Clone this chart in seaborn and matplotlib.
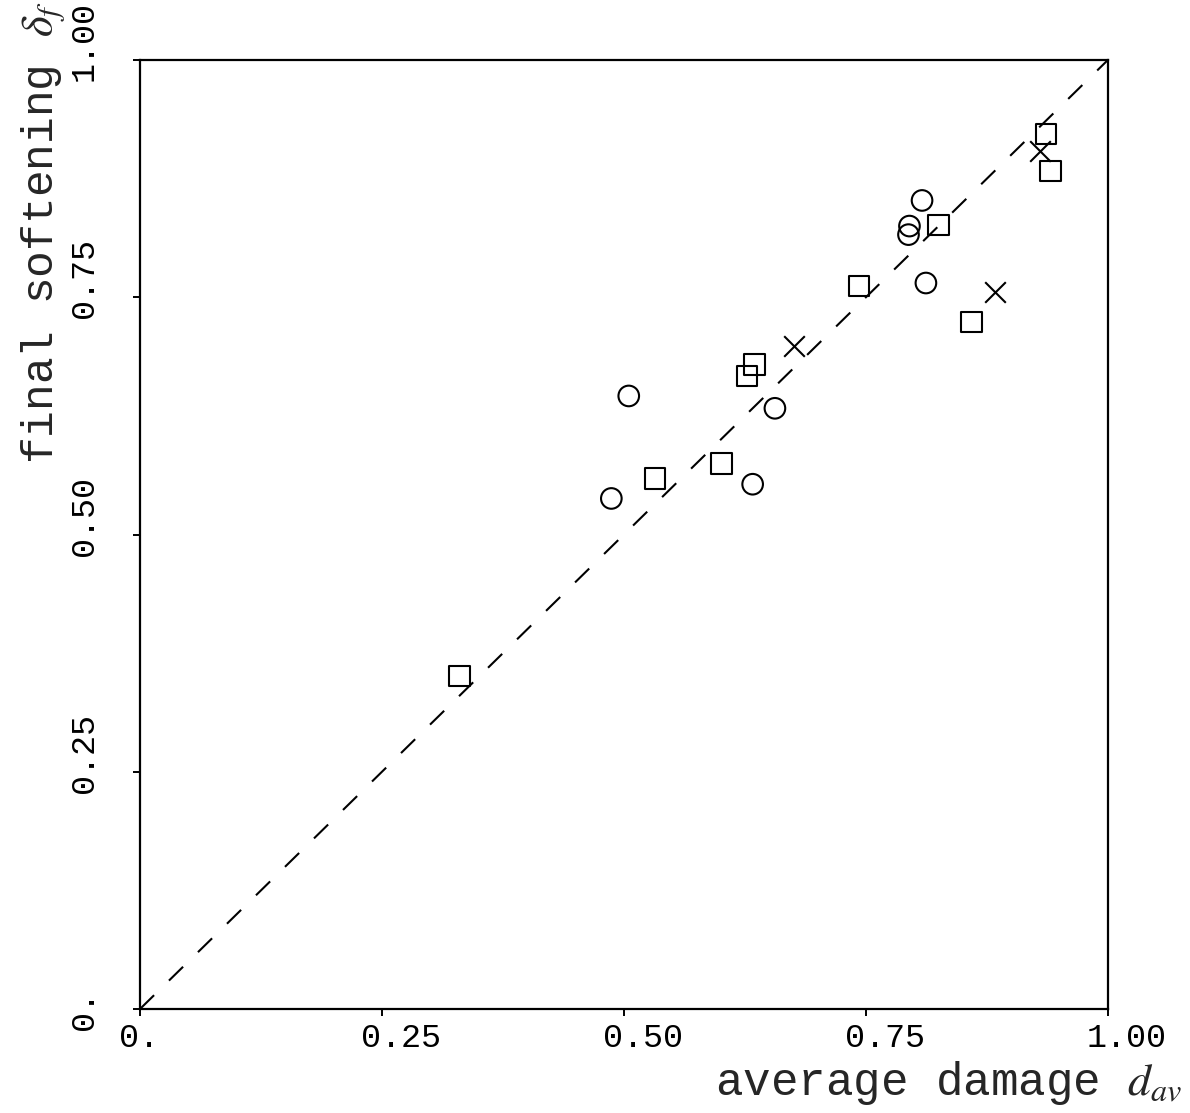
import matplotlib
matplotlib.use("Agg")
import matplotlib.pyplot as plt
import matplotlib.transforms as mtransforms
import seaborn as sns

# values
circle_x = [0.808, 0.795, 0.794, 0.812, 0.505, 0.656, 0.633, 0.487]
circle_y = [0.852, 0.825, 0.816, 0.765, 0.646, 0.633, 0.553, 0.538]

square_x = [0.936, 0.941, 0.825, 0.743, 0.859, 0.635, 0.627, 0.601, 0.532, 0.330]
square_y = [0.922, 0.883, 0.826, 0.762, 0.724, 0.679, 0.667, 0.575, 0.559, 0.351]

cross_x = [0.930, 0.883, 0.676]
cross_y = [0.904, 0.756, 0.699]

# 1:1 reference line
diag_x = [0.0, 1.0]
diag_y = [0.0, 1.0]

tick_vals = [0.0, 0.25, 0.50, 0.75, 1.00]
tick_labels = ["0.", "0.25", "0.50", "0.75", "1.00"]

sns.set_style("ticks")
plt.rcParams["font.family"] = ["Liberation Mono", "DejaVu Sans"]
plt.rcParams["mathtext.fontset"] = "stix"

fig = plt.figure(figsize=(11.9, 11.13), dpi=100)
ax = fig.add_axes([0.1176, 0.0934, 0.8134, 0.8527])

sns.lineplot(x=diag_x, y=diag_y, ax=ax, color="black", lw=1.5,
             linestyle=(0, (9.5, 10)))

mk = dict(ax=ax, s=220, linewidth=1.5)
sns.scatterplot(x=circle_x, y=circle_y, marker="o", facecolor="none",
                edgecolor="black", **mk)
sns.scatterplot(x=square_x, y=square_y, marker="s", facecolor="none",
                edgecolor="black", **mk)
sns.scatterplot(x=cross_x, y=cross_y, marker="x", color="black", **mk)

ax.set_xlim(0, 1)
ax.set_ylim(0, 1)
ax.set_xticks(tick_vals, tick_labels)
ax.set_yticks(tick_vals, tick_labels)

for side in ["top", "right", "bottom", "left"]:
    ax.spines[side].set_visible(True)
    ax.spines[side].set_linewidth(1.6)
    ax.spines[side].set_color("black")

ax.tick_params(direction="out", length=5, width=1.4, labelsize=24, colors="black")
ax.tick_params(axis="x", pad=5)
ax.tick_params(axis="y", pad=24, labelrotation=90)

# labels start a little before their tick, like the original plotter
shift_x = mtransforms.ScaledTranslation(-21 / 100, 0, fig.dpi_scale_trans)
shift_y = mtransforms.ScaledTranslation(0, -21 / 100, fig.dpi_scale_trans)
for lab in ax.get_xticklabels():
    lab.set_horizontalalignment("left")
    lab.set_transform(lab.get_transform() + shift_x)
for lab in ax.get_yticklabels():
    lab.set_verticalalignment("bottom")
    lab.set_transform(lab.get_transform() + shift_y)

ax.set_xlabel(r"average damage $d_{av}$", fontsize=33, ha="right", va="center")
ax.xaxis.set_label_coords(1.077, -0.078)
ax.set_ylabel(r"final softening $\delta_f$", fontsize=32, ha="right", va="center")
ax.yaxis.set_label_coords(-0.1, 1.062)

fig.savefig("out.png", dpi=100, facecolor="white")
